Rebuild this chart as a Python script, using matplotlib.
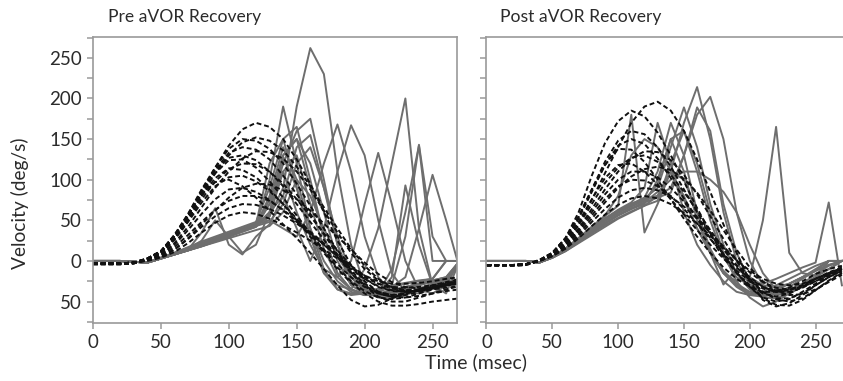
import matplotlib
matplotlib.use('Agg')
import matplotlib.pyplot as plt
from matplotlib.ticker import MultipleLocator, FuncFormatter

plt.rcParams['font.family'] = ['Lato', 'DejaVu Sans']

# sample times (msec), one value per trace at each of these
t_ms = [0, 10, 20, 30, 40, 50, 60, 70, 80, 90,
        100, 110, 120, 130, 140, 150, 160, 170, 180, 190,
        200, 210, 220, 230, 240, 250, 260, 270]

# Pre aVOR recovery - dashed (black) traces, deg/s
pre_dashed = [
    [-3, -3, -3, -2, 3, 12, 30, 55, 85, 115, 142, 162, 170, 165, 150, 125, 95, 60, 25, -5, -25, -38, -42, -40, -36, -33, -30, -28],
    [-3, -3, -3, -2, 3, 12, 32, 58, 88, 115, 138, 150, 148, 138, 120, 95, 68, 40, 12, -12, -28, -38, -42, -40, -35, -30, -26, -22],
    [-4, -4, -4, -3, 2, 11, 30, 55, 85, 112, 133, 140, 137, 125, 105, 82, 58, 33, 8, -14, -30, -40, -44, -42, -38, -34, -30, -27],
    [-3, -3, -3, -2, 3, 12, 31, 56, 84, 108, 124, 125, 115, 98, 78, 56, 34, 12, -8, -25, -37, -45, -47, -45, -40, -35, -30, -27],
    [-4, -4, -4, -3, 2, 10, 28, 52, 80, 102, 114, 112, 103, 88, 70, 50, 30, 10, -10, -27, -40, -50, -55, -55, -53, -50, -48, -46],
    [-3, -3, -3, -2, 2, 9, 26, 48, 72, 92, 103, 105, 98, 86, 70, 52, 33, 14, -4, -20, -32, -40, -44, -45, -43, -40, -37, -35],
    [-3, -3, -3, -2, 3, 12, 32, 57, 82, 97, 100, 92, 78, 62, 45, 28, 10, -10, -30, -48, -56, -54, -46, -40, -36, -33, -30, -28],
    [-4, -4, -4, -3, 1, 7, 20, 38, 58, 76, 88, 90, 85, 75, 62, 48, 34, 20, 5, -10, -22, -31, -36, -38, -37, -35, -33, -31],
    [-3, -3, -3, -2, 1, 6, 17, 32, 48, 63, 74, 80, 80, 74, 63, 50, 36, 22, 8, -6, -18, -28, -34, -36, -35, -33, -30, -28],
    [-3, -3, -3, -2, 1, 5, 14, 27, 42, 55, 65, 70, 69, 64, 56, 46, 34, 20, 6, -8, -20, -28, -32, -33, -32, -30, -27, -25],
    [-3, -3, -3, -2, 1, 8, 22, 42, 66, 90, 110, 126, 135, 134, 126, 110, 88, 62, 35, 10, -10, -24, -33, -37, -37, -34, -30, -27],
    [-3, -3, -3, -2, 2, 10, 28, 52, 80, 108, 130, 146, 152, 148, 136, 116, 92, 66, 40, 15, -6, -22, -32, -36, -36, -33, -29, -25],
    [-4, -4, -4, -3, 2, 10, 27, 50, 76, 98, 113, 120, 119, 110, 95, 76, 55, 34, 13, -6, -22, -32, -37, -38, -36, -32, -28, -24],
    [-3, -3, -3, -2, 1, 5, 14, 28, 45, 62, 78, 90, 95, 94, 87, 76, 62, 46, 30, 14, -2, -16, -26, -32, -34, -32, -28, -24],
    [-3, -3, -3, -2, 3, 12, 31, 57, 87, 112, 127, 130, 124, 110, 92, 70, 48, 26, 5, -15, -31, -44, -50, -50, -45, -40, -35, -31],
    [-3, -3, -3, -2, 0, 4, 11, 22, 35, 47, 56, 60, 58, 52, 44, 35, 25, 14, 3, -8, -18, -25, -28, -28, -27, -25, -22, -20],
]

# Pre aVOR recovery - solid (grey) traces
pre_solid = [
    [0, 0, 0, -1, -2, 4, 10, 16, 22, 28, 34, 40, 46, 55, 90, 190, 262, 230, 110, 20, -30, -42, -44, -40, -34, -28, -22, 0],
    [0, 0, 0, -1, -2, 3, 9, 15, 21, 27, 33, 39, 45, 100, 190, 120, 40, -10, -35, -42, -40, -36, -32, -28, -25, -22, 0, 0],
    [0, 0, 0, -1, -2, 3, 8, 14, 20, 26, 32, 38, 44, 60, 120, 160, 175, 100, 20, -25, -40, -44, -40, -34, -28, -24, -20, 0],
    [0, 0, 0, -1, -2, 4, 10, 17, 24, 30, 36, 42, 48, 90, 150, 165, 100, 30, -15, -35, -42, -42, -38, -32, -28, -24, -20, 0],
    [0, 0, 0, -1, -2, 3, 8, 14, 35, 65, 20, 8, 30, 45, 80, 140, 155, 90, 20, -20, -38, -42, -40, -35, -30, -26, -22, 0],
    [0, 0, 0, -1, -2, 3, 8, 13, 19, 25, 31, 37, 43, 48, 70, 120, 140, 90, 30, -15, -35, -45, -46, -42, -36, -30, -25, 0],
    [0, 0, 0, -1, -2, 3, 9, 15, 21, 27, 33, 39, 45, 50, 40, 30, 60, 120, 168, 110, 30, -20, -38, -40, -35, -28, -22, 0],
    [0, 0, 0, -1, -2, 3, 8, 13, 18, 24, 30, 36, 42, 60, 80, 40, 0, 40, 110, 167, 130, 50, -15, -38, -40, -34, -28, 0],
    [0, 0, 0, -1, -2, 3, 8, 13, 18, 24, 30, 36, 42, 70, 110, 60, 20, -10, -20, 0, 70, 133, 70, 0, -35, -40, -30, 0],
    [0, 0, 0, -1, -2, 3, 9, 15, 21, 27, 33, 39, 45, 120, 150, 90, 30, -15, -30, -35, -10, 40, 120, 200, 40, -30, -40, 0],
    [0, 0, 0, -1, -2, 3, 8, 13, 18, 23, 28, 33, 38, 43, 60, 100, 80, 40, 5, -20, -35, -40, -20, 93, 20, -30, -25, 0],
    [0, 0, 0, -1, -2, 3, 8, 14, 20, 26, 32, 38, 44, 80, 140, 100, 40, 0, -25, -38, -42, -38, -30, 30, 143, 30, 0, 0],
    [0, 0, 0, -1, -2, 3, 9, 15, 21, 27, 33, 39, 45, 70, 130, 150, 90, 30, -15, -35, -42, -40, -10, 60, 142, 0, 0, 0],
    [0, 0, 0, -1, -2, 3, 8, 13, 19, 25, 31, 37, 43, 55, 110, 130, 70, 15, -20, -35, -40, -38, -32, -20, 40, 106, 50, -10],
    [0, 0, 0, -1, -2, 4, 10, 16, 22, 28, 34, 40, 46, 75, 130, 150, 120, 60, 0, -30, -40, -40, -36, -32, -28, -25, -25, -25],
    [0, 0, 0, -1, -2, 3, 8, 14, 25, 50, 30, 10, 20, 60, 128, 90, 30, -15, -35, -40, -38, -34, -30, -27, -24, -22, 0, 0],
]

# Post aVOR recovery - dashed (black) traces
post_dashed = [
    [-5, -5, -5, -4, 0, 8, 22, 45, 75, 108, 140, 170, 190, 196, 185, 160, 125, 85, 45, 10, -25, -48, -56, -52, -42, -30, -20, -12],
    [-5, -5, -5, -4, 1, 10, 28, 60, 105, 145, 172, 185, 178, 158, 130, 98, 65, 35, 8, -15, -32, -45, -50, -47, -38, -28, -18, -10],
    [-6, -6, -6, -5, 0, 9, 26, 52, 85, 118, 142, 150, 144, 126, 102, 77, 52, 28, 5, -15, -30, -40, -44, -40, -32, -22, -14, -8],
    [-5, -5, -5, -4, 1, 10, 28, 55, 88, 118, 138, 137, 122, 100, 76, 52, 30, 10, -8, -22, -32, -38, -38, -33, -25, -16, -10, -6],
    [-5, -5, -5, -4, 0, 8, 22, 44, 70, 96, 115, 127, 130, 122, 106, 85, 62, 38, 15, -6, -24, -38, -46, -46, -40, -30, -20, -12],
    [-6, -6, -6, -5, 0, 9, 25, 48, 76, 102, 118, 120, 110, 94, 76, 57, 38, 20, 3, -12, -25, -34, -38, -36, -30, -22, -15, -9],
    [-5, -5, -5, -4, 0, 7, 20, 38, 60, 82, 100, 110, 110, 103, 90, 73, 54, 34, 14, -5, -20, -32, -38, -38, -33, -25, -17, -10],
    [-5, -5, -5, -4, 0, 7, 19, 36, 56, 76, 92, 100, 99, 92, 80, 64, 46, 27, 9, -8, -22, -32, -36, -35, -30, -22, -15, -9],
    [-5, -5, -5, -4, 0, 6, 16, 31, 48, 64, 78, 87, 90, 87, 79, 67, 52, 35, 18, 1, -14, -26, -33, -35, -32, -25, -17, -10],
    [-5, -5, -5, -4, 0, 6, 15, 28, 43, 57, 69, 77, 80, 77, 70, 59, 46, 31, 16, 1, -12, -22, -28, -30, -28, -22, -16, -10],
    [-5, -5, -5, -4, 1, 10, 28, 54, 88, 122, 148, 160, 156, 140, 116, 88, 60, 33, 8, -14, -32, -46, -54, -55, -48, -36, -24, -14],
    [-5, -5, -5, -4, 0, 7, 20, 40, 64, 88, 110, 126, 135, 134, 124, 106, 82, 55, 27, 0, -22, -38, -47, -50, -46, -36, -25, -15],
    [-5, -5, -5, -4, 0, 6, 17, 33, 52, 72, 90, 104, 113, 116, 112, 101, 84, 62, 38, 14, -8, -25, -37, -42, -41, -35, -26, -17],
]

# Post aVOR recovery - solid (grey) traces
post_solid = [
    [0, 0, 0, 0, -2, 5, 15, 28, 40, 52, 62, 70, 76, 80, 110, 170, 214, 150, 60, 0, -30, -42, -40, -35, -28, -20, 0, 0],
    [0, 0, 0, 0, -2, 5, 14, 26, 38, 50, 60, 68, 75, 80, 90, 130, 180, 202, 150, 60, 0, -30, -42, -40, -32, -22, 0, 0],
    [0, 0, 0, 0, -2, 5, 15, 28, 42, 55, 68, 180, 35, 70, 110, 80, 40, 10, -15, -30, -40, -42, -36, -28, -20, -10, 0, 0],
    [0, 0, 0, 0, -2, 5, 14, 27, 40, 52, 63, 72, 90, 170, 120, 60, 20, -5, -25, -38, -42, -38, -30, -22, -14, -6, 0, 0],
    [0, 0, 0, 0, -2, 5, 14, 26, 38, 50, 60, 70, 78, 110, 170, 130, 60, 15, -15, -32, -42, -44, -40, -32, -22, -12, 0, 0],
    [0, 0, 0, 0, -2, 5, 15, 28, 40, 52, 62, 70, 77, 90, 140, 189, 140, 70, 20, -15, -35, -45, -46, -40, -30, -20, 0, 0],
    [0, 0, 0, 0, -2, 4, 13, 25, 36, 47, 57, 65, 72, 78, 84, 130, 189, 160, 70, 10, -25, -40, -42, -38, -30, -20, 0, 0],
    [0, 0, 0, 0, -2, 4, 13, 24, 35, 46, 56, 64, 70, 100, 150, 110, 50, 10, -15, -25, -20, 50, 165, 10, -15, -18, -10, 0],
    [0, 0, 0, 0, -2, 4, 12, 22, 32, 42, 52, 60, 68, 74, 120, 160, 110, 50, 5, -20, -30, -28, -22, -15, -8, -2, 72, -30],
    [0, 0, 0, 0, -2, 4, 13, 24, 35, 46, 56, 64, 72, 85, 100, 110, 110, 100, 85, 60, 20, -15, -35, -38, -30, -20, -10, 0],
    [0, 0, 0, 0, -2, 5, 15, 28, 42, 56, 80, 130, 150, 140, 110, 75, 40, 10, -12, -28, -38, -40, -35, -28, -20, -12, -5, 0],
    [0, 0, 0, 0, -2, 4, 12, 23, 34, 44, 53, 61, 68, 80, 110, 100, 60, 10, -29, -10, -20, -30, -32, -28, -20, -12, -5, 0],
    [0, 0, 0, 0, -2, 5, 14, 26, 38, 49, 59, 67, 74, 95, 150, 160, 120, 60, 10, -25, -45, -56, -50, -40, -28, -16, -6, 0],
]

grey = '#6e6e6e'
frame = '#9a9a9a'
txt = '#2b2b2b'

fig = plt.figure(figsize=(8.43, 3.81), dpi=100)
ax1 = fig.add_axes([0.1103, 0.153, 0.4318, 0.7507])
ax2 = fig.add_axes([0.5771, 0.153, 0.4294, 0.7507])


def draw_panel(ax, solid, dashed, xmax, show_labels):
    for v in solid:
        ax.plot(t_ms, v, color=grey, lw=1.4)
    for v in dashed:
        ax.plot(t_ms, v, color='#111111', lw=1.4, linestyle=(0, (2.5, 1.5)))
    ax.set_xlim(0, xmax)
    ax.set_ylim(-76, 276)
    ax.xaxis.set_major_locator(MultipleLocator(50))
    ax.yaxis.set_major_locator(MultipleLocator(50))
    ax.yaxis.set_minor_locator(MultipleLocator(25))
    ax.yaxis.set_major_formatter(FuncFormatter(lambda v, p: '%d' % abs(v)))
    for s in ax.spines.values():
        s.set_color(frame)
        s.set_linewidth(1.2)
    ax.tick_params(which='both', direction='out', length=4, width=1.1,
                   color=frame, labelcolor=txt, labelsize=13.5, pad=4)
    if not show_labels:
        ax.tick_params(axis='y', which='both', labelleft=False)


draw_panel(ax1, pre_solid, pre_dashed, 268, True)
draw_panel(ax2, post_solid, post_dashed, 275, False)

fig.text(108 / 843, 1 - 17 / 381, 'Pre aVOR Recovery', ha='left', va='center',
         fontsize=12.6, color=txt)
fig.text(500 / 843, 1 - 17 / 381, 'Post aVOR Recovery', ha='left', va='center',
         fontsize=12.6, color=txt)
fig.text(20 / 843, 1 - 203 / 381, 'Velocity (deg/s)', rotation=90,
         ha='center', va='center', fontsize=13.8, color=txt)
fig.text(476 / 843, 1 - 362 / 381, 'Time (msec)', ha='center', va='center',
         fontsize=14, color=txt)

fig.savefig('out.png', dpi=100, facecolor='white')
